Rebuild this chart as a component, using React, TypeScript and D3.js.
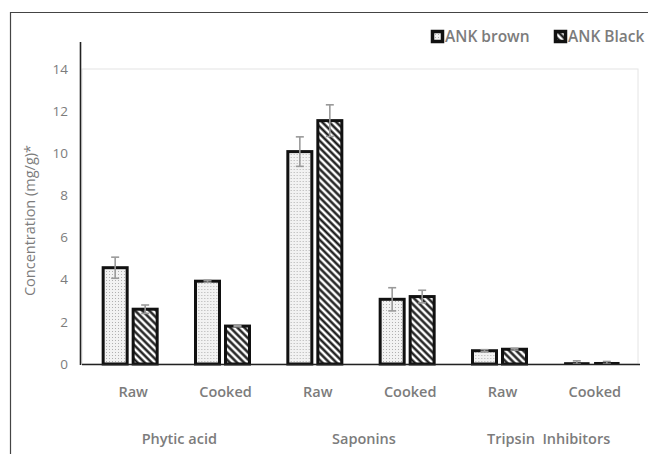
import React, { useEffect, useRef } from 'react';
import * as d3 from 'd3';

// chart data
const subCategories = ['Raw', 'Cooked', 'Raw', 'Cooked', 'Raw', 'Cooked'];
const groupLabels = ['Phytic acid', 'Saponins', 'Tripsin  Inhibitors'];
const seriesNames = ['ANK brown', 'ANK Black'];
const brownValues = [4.57, 3.93, 10.08, 3.07, 0.63, 0.05];
const brownErrors = [0.5, 0.05, 0.7, 0.55, 0.05, 0.1];
const blackValues = [2.6, 1.8, 11.55, 3.2, 0.7, 0.06];
const blackErrors = [0.2, 0.03, 0.75, 0.3, 0.04, 0.06];
const yTicks = [0, 2, 4, 6, 8, 10, 12, 14];

const W = 648;
const H = 454;
const textGray = '#7c7c7c';
const font = '"Open Sans", "DejaVu Sans", sans-serif';

function BarChart() {
  const svgRef = useRef<SVGSVGElement | null>(null);

  useEffect(() => {
    const svg = d3.select(svgRef.current);
    svg.selectAll('*').remove();

    const plotLeft = 84;
    const plotRight = 638;
    const plotTop = 69;
    const plotBottom = 364;

    const keys = subCategories.map((d, i) => `${i}`);
    const x = d3.scaleBand<string>().domain(keys).range([plotLeft, plotRight]).padding(0);
    const step = x.bandwidth();
    const xInner = d3.scaleBand<string>()
      .domain(seriesNames)
      .range([step / 2 - 27, step / 2 + 27])
      .paddingInner(0.2);
    const y = d3.scaleLinear().domain([0, 14]).range([plotBottom, plotTop]);

    // patterns
    const defs = svg.append('defs');
    const dots = defs.append('pattern')
      .attr('id', 'dots')
      .attr('patternUnits', 'userSpaceOnUse')
      .attr('width', 3)
      .attr('height', 3);
    dots.append('rect').attr('width', 3).attr('height', 3).attr('fill', '#f2f2f2');
    dots.append('rect').attr('x', 1).attr('y', 1).attr('width', 1).attr('height', 1).attr('fill', '#b0b0b0');

    const hatch = defs.append('pattern')
      .attr('id', 'hatch')
      .attr('patternUnits', 'userSpaceOnUse')
      .attr('width', 5)
      .attr('height', 5)
      .attr('patternTransform', 'rotate(-45)');
    hatch.append('rect').attr('width', 5).attr('height', 5).attr('fill', '#fff');
    hatch.append('line')
      .attr('x1', 1.5).attr('y1', 0).attr('x2', 1.5).attr('y2', 5)
      .attr('stroke', '#111').attr('stroke-width', 2.3);

    const fills = ['url(#dots)', 'url(#hatch)'];

    // outer frame (top and left)
    svg.append('path')
      .attr('d', `M10.5,${H} V12.5 H${W}`)
      .attr('fill', 'none')
      .attr('stroke', '#444')
      .attr('stroke-width', 1.2);

    // plot area border
    svg.append('rect')
      .attr('x', 82)
      .attr('y', y(14))
      .attr('width', plotRight - 82)
      .attr('height', plotBottom - y(14))
      .attr('fill', 'none')
      .attr('stroke', '#e4e4e4')
      .attr('stroke-width', 1);

    // y tick labels
    svg.append('g')
      .selectAll('text')
      .data(yTicks)
      .enter()
      .append('text')
      .attr('x', 68)
      .attr('y', d => y(d))
      .attr('dy', '0.35em')
      .attr('text-anchor', 'end')
      .attr('font-family', font)
      .attr('font-size', 13.5)
      .attr('font-weight', 500)
      .attr('fill', textGray)
      .text(d => d);

    // y axis title
    svg.append('text')
      .attr('transform', `translate(35,${(plotTop + plotBottom) / 2 + 4}) rotate(-90)`)
      .attr('text-anchor', 'middle')
      .attr('font-family', font)
      .attr('font-size', 14.5)
      .attr('font-weight', 500)
      .attr('fill', textGray)
      .text('Concentration (mg/g)*');

    // bars
    const rows = subCategories.map((c, i) => ({
      key: `${i}`,
      values: [
        { name: seriesNames[0], v: brownValues[i], e: brownErrors[i], fill: fills[0] },
        { name: seriesNames[1], v: blackValues[i], e: blackErrors[i], fill: fills[1] }
      ]
    }));

    const groupsG = svg.append('g')
      .selectAll('g')
      .data(rows)
      .enter()
      .append('g')
      .attr('transform', d => `translate(${x(d.key)},0)`);

    groupsG.selectAll('rect')
      .data(d => d.values)
      .enter()
      .append('rect')
      .attr('x', d => xInner(d.name)!)
      .attr('y', d => y(d.v))
      .attr('width', xInner.bandwidth())
      .attr('height', d => plotBottom - y(d.v))
      .attr('fill', d => d.fill)
      .attr('stroke', '#111')
      .attr('stroke-width', d => (d.v < 0.2 ? 1.5 : 3));

    // error bars
    const err = groupsG.selectAll('g.err')
      .data(d => d.values)
      .enter()
      .append('g')
      .attr('class', 'err')
      .attr('stroke', '#9a9a9a')
      .attr('stroke-width', 1.6);
    const cx = (d: any) => xInner(d.name)! + xInner.bandwidth() / 2;
    err.append('line')
      .attr('x1', cx).attr('x2', cx)
      .attr('y1', d => y(d.v + d.e)).attr('y2', d => y(Math.max(0, d.v - d.e)));
    err.append('line')
      .attr('x1', d => cx(d) - 4).attr('x2', d => cx(d) + 4)
      .attr('y1', d => y(d.v + d.e)).attr('y2', d => y(d.v + d.e));
    err.append('line')
      .attr('x1', d => cx(d) - 4).attr('x2', d => cx(d) + 4)
      .attr('y1', d => y(Math.max(0, d.v - d.e))).attr('y2', d => y(Math.max(0, d.v - d.e)));

    // axis lines
    svg.append('line')
      .attr('x1', 80.5).attr('x2', 80.5)
      .attr('y1', 42).attr('y2', plotBottom + 1)
      .attr('stroke', '#222').attr('stroke-width', 1.6);
    svg.append('line')
      .attr('x1', 82).attr('x2', plotRight + 2)
      .attr('y1', plotBottom + 0.5).attr('y2', plotBottom + 0.5)
      .attr('stroke', '#222').attr('stroke-width', 1.6);

    // category labels
    svg.append('g')
      .selectAll('text')
      .data(rows)
      .enter()
      .append('text')
      .attr('x', d => x(d.key)! + step / 2 + 3)
      .attr('y', 397)
      .attr('text-anchor', 'middle')
      .attr('font-family', font)
      .attr('font-size', 14.5)
      .attr('font-weight', 600)
      .attr('fill', textGray)
      .text((d, i) => subCategories[i]);

    svg.append('g')
      .selectAll('text')
      .data(groupLabels)
      .enter()
      .append('text')
      .attr('x', (d, i) => x(`${i * 2}`)! + step + 3)
      .attr('y', 444)
      .attr('text-anchor', 'middle')
      .attr('font-family', font)
      .attr('font-size', 14.5)
      .attr('font-weight', 600)
      .attr('fill', textGray)
      .style('white-space', 'pre')
      .text(d => d);

    // legend
    const legendX = [431, 554];
    const legend = svg.append('g')
      .selectAll('g')
      .data(seriesNames)
      .enter()
      .append('g')
      .attr('transform', (d, i) => `translate(${legendX[i]},30)`);
    legend.append('rect')
      .attr('x', 1.5).attr('y', 1.5)
      .attr('width', 10).attr('height', 10)
      .attr('fill', (d, i) => fills[i])
      .attr('stroke', '#111')
      .attr('stroke-width', 3.5);
    legend.append('text')
      .attr('x', 14)
      .attr('y', 12)
      .attr('font-family', font)
      .attr('font-size', 15.5)
      .attr('font-weight', 600)
      .attr('fill', textGray)
      .text(d => d);
  }, []);

  return (
    <svg
      ref={svgRef}
      width={W}
      height={H}
      style={{ position: 'absolute', left: 0, top: 0, background: '#fff' }}
    />
  );
}

export default function App() {
  return (
    <div>
      <BarChart />
    </div>
  );
}
